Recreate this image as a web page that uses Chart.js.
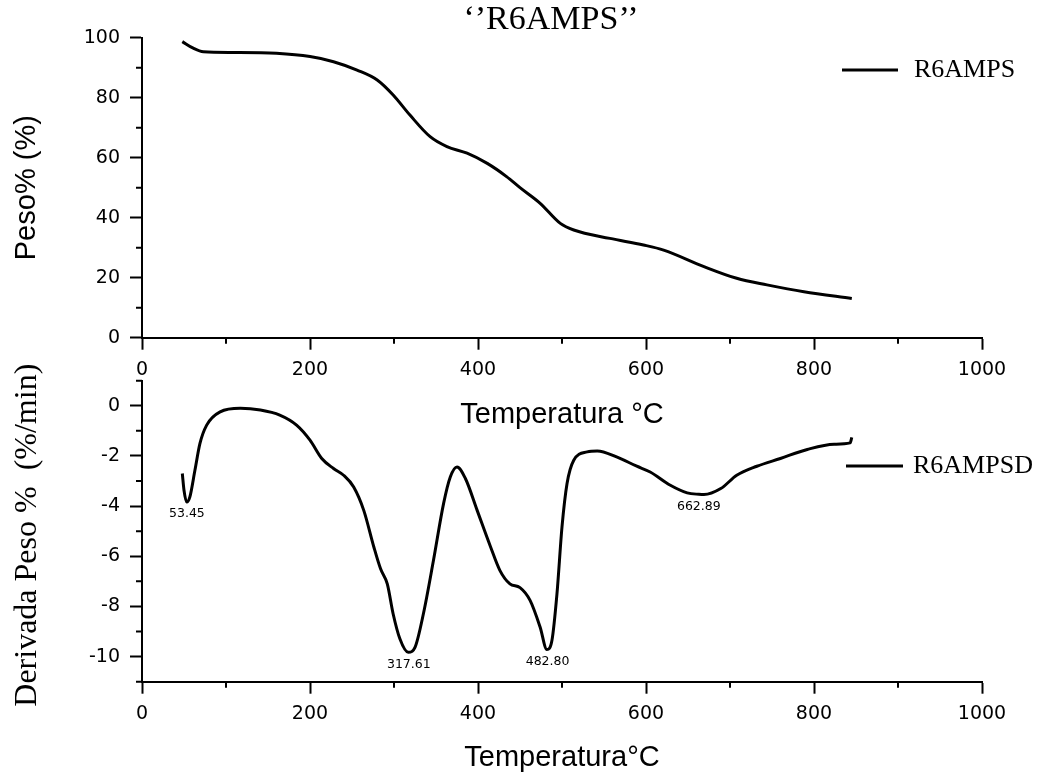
<!DOCTYPE html>
<html>
<head>
<meta charset="utf-8">
<script src="https://cdn.jsdelivr.net/npm/chart.js@4"></script>
<style>
  html, body { margin: 0; padding: 0; background: #fff; }
  #wrap { position: relative; width: 1039px; height: 775px; overflow: hidden; }
  canvas { position: absolute; left: 0; }
  #tgChart { top: 0; }
  #dtgChart { top: 340px; }
</style>
</head>
<body>
<div id="wrap">
  <canvas id="tgChart" width="1039" height="440"></canvas>
  <canvas id="dtgChart" width="1039" height="435"></canvas>
</div>
<script>
// TG curve (weight %)
const tgTemp = [48, 61, 73, 109, 160, 200, 228, 256, 280, 299, 319, 343, 363, 387, 411, 434, 450, 474, 498, 514, 557, 597, 621, 669, 708, 744, 788, 845];
const tgWeight = [98.7, 96.5, 95.3, 95.1, 94.8, 93.7, 92.0, 89.2, 85.9, 80.9, 74.2, 67.0, 63.7, 61.5, 58.1, 53.7, 50.0, 44.8, 38.1, 35.9, 33.1, 30.9, 29.2, 23.7, 19.8, 17.6, 15.3, 13.1];

// DTG curve (derivative, %/min)
const dtgTemp = [48, 50, 53.2, 57, 63, 69, 77, 93, 117, 141, 164, 184, 200, 214, 228, 240, 252, 264, 276, 284, 292, 299, 307, 317, 325, 335, 347, 359, 367, 375, 385, 399, 415, 426, 438, 450, 462, 474, 482, 488, 494, 500, 506, 514, 530, 542, 565, 589, 605, 629, 649, 663, 669, 689, 708, 732, 760, 792, 824, 843, 845];
const dtgValue = [-2.70, -3.37, -3.84, -3.63, -2.57, -1.50, -0.77, -0.24, -0.10, -0.17, -0.37, -0.77, -1.37, -2.10, -2.50, -2.77, -3.24, -4.17, -5.63, -6.50, -7.10, -8.30, -9.29, -9.83, -9.63, -8.29, -6.16, -3.90, -2.84, -2.44, -2.90, -4.17, -5.63, -6.56, -7.10, -7.25, -7.76, -8.83, -9.72, -9.36, -7.50, -4.83, -3.10, -2.17, -1.84, -1.80, -2.04, -2.41, -2.64, -3.17, -3.47, -3.53, -3.54, -3.30, -2.77, -2.41, -2.10, -1.74, -1.53, -1.48, -1.26];

// peak annotations
const peakTemp = [53.45, 317.61, 482.80, 662.89];
const peakValue = [-3.84, -9.83, -9.72, -3.53];
const peakLabels = ['53.45', '317.61', '482.80', '662.89'];

// axis ticks
const xTicks = [0, 200, 400, 600, 800, 1000];
const xMinor = [100, 300, 500, 700, 900];
const tgTicks = [0, 20, 40, 60, 80, 100];
const tgMinor = [10, 30, 50, 70, 90];
const dtgTicks = [-10, -8, -6, -4, -2, 0];
const dtgMinor = [-11, -9, -7, -5, -3, -1, 1];

const tickFont = { family: 'DejaVu Sans', size: 19 };
const sansTitle = { family: 'Liberation Sans, Arial', size: 29 };
const serif = 'Liberation Serif, Times New Roman, serif';

// short minor ticks, placed through the scales
const minorTicks = {
    id: 'minorTicks',
    afterDraw(chart, args, opts) {
        const ctx = chart.ctx;
        const xs = chart.scales.x, ys = chart.scales.y;
        ctx.save();
        ctx.strokeStyle = '#000';
        ctx.lineWidth = 2;
        ctx.beginPath();
        opts.x.forEach(v => {
            const px = xs.getPixelForValue(v);
            ctx.moveTo(px, xs.top);
            ctx.lineTo(px, xs.top + opts.len);
        });
        opts.y.forEach(v => {
            const py = ys.getPixelForValue(v);
            ctx.moveTo(ys.right, py);
            ctx.lineTo(ys.right - opts.len, py);
        });
        ctx.stroke();
        ctx.restore();
    }
};

// legend in the Origin style: short line + serif label
const lineLegend = {
    id: 'lineLegend',
    afterDraw(chart, args, opts) {
        const ctx = chart.ctx;
        ctx.save();
        ctx.strokeStyle = '#000';
        ctx.lineWidth = 3;
        ctx.beginPath();
        ctx.moveTo(opts.x1, opts.y);
        ctx.lineTo(opts.x2, opts.y);
        ctx.stroke();
        ctx.fillStyle = '#000';
        ctx.font = '26px ' + serif;
        ctx.textBaseline = 'middle';
        ctx.fillText(chart.data.datasets[0].label, opts.textX, opts.y);
        if (opts.title) {
            ctx.font = '34px ' + serif;
            ctx.textAlign = 'center';
            ctx.fillText(opts.title, opts.titleX, opts.titleY);
        }
        ctx.restore();
    }
};

// peak temperature labels under each minimum
const peakNotes = {
    id: 'peakNotes',
    afterDatasetsDraw(chart) {
        const ctx = chart.ctx;
        const xs = chart.scales.x, ys = chart.scales.y;
        ctx.save();
        ctx.fillStyle = '#000';
        ctx.font = '12.5px DejaVu Sans';
        ctx.textAlign = 'center';
        ctx.textBaseline = 'middle';
        peakTemp.forEach((t, i) => {
            ctx.fillText(peakLabels[i], xs.getPixelForValue(t), ys.getPixelForValue(peakValue[i]) + 12);
        });
        ctx.restore();
    }
};

function axisX(title, height, titlePad) {
    return {
        type: 'linear',
        min: 0,
        max: 1000,
        afterBuildTicks: s => { s.ticks = xTicks.map(v => ({ value: v })); },
        afterFit: s => { s.height = height; },
        border: { display: true, color: '#000', width: 2 },
        grid: { display: true, drawOnChartArea: false, drawTicks: true, tickLength: 12, tickColor: '#000', tickWidth: 2 },
        ticks: { color: '#000', font: tickFont, padding: 9, maxRotation: 0, autoSkip: false, callback: v => String(v) },
        title: { display: true, text: title, color: '#000', font: sansTitle, padding: { top: 0, bottom: titlePad } }
    };
}

function axisY(min, max, ticks, title, titleFont, titlePad) {
    return {
        type: 'linear',
        min: min,
        max: max,
        afterBuildTicks: s => { s.ticks = ticks.map(v => ({ value: v })); },
        afterFit: s => { s.width = 142; },
        border: { display: true, color: '#000', width: 2 },
        grid: { display: true, drawOnChartArea: false, drawTicks: true, tickLength: 12, tickColor: '#000', tickWidth: 2 },
        ticks: { color: '#000', font: tickFont, padding: 10, callback: v => String(v) },
        title: { display: true, text: title, color: '#000', font: titleFont, padding: { top: titlePad, bottom: 0 } }
    };
}

// Top chart: weight loss
new Chart(document.getElementById('tgChart').getContext('2d'), {
    type: 'line',
    data: {
        datasets: [{
            label: 'R6AMPS',
            data: tgTemp.map((t, i) => ({ x: t, y: tgWeight[i] })),
            borderColor: '#000',
            borderWidth: 3,
            pointRadius: 0,
            cubicInterpolationMode: 'monotone',
            fill: false
        }]
    },
    options: {
        responsive: false,
        animation: false,
        layout: { padding: { top: 37.7, left: 0, right: 57, bottom: 0 } },
        scales: {
            x: axisX('Temperatura °C', 102.3, 8),
            y: axisY(0, 100, tgTicks, 'Peso% (%)', sansTitle, 10)
        },
        plugins: {
            legend: { display: false },
            tooltip: { enabled: false },
            minorTicks: { x: xMinor, y: tgMinor, len: 6 },
            lineLegend: { x1: 842, x2: 898, y: 70, textX: 914, title: '\u2018\u2019R6AMPS\u2019\u2019', titleX: 551, titleY: 20 }
        }
    },
    plugins: [minorTicks, lineLegend]
});

// Bottom chart: derivative
new Chart(document.getElementById('dtgChart').getContext('2d'), {
    type: 'line',
    data: {
        datasets: [{
            label: 'R6AMPSD',
            data: dtgTemp.map((t, i) => ({ x: t, y: dtgValue[i] })),
            borderColor: '#000',
            borderWidth: 3,
            pointRadius: 0,
            cubicInterpolationMode: 'monotone',
            fill: false
        }]
    },
    options: {
        responsive: false,
        animation: false,
        layout: { padding: { top: 40.7, left: 0, right: 57, bottom: 0 } },
        scales: {
            x: axisX('Temperatura°C', 93.3, 0),
            y: axisY(-11, 1, dtgTicks, 'Derivada Peso %  (%/min) ', { family: serif, size: 32 }, 8)
        },
        plugins: {
            legend: { display: false },
            tooltip: { enabled: false },
            minorTicks: { x: xMinor, y: dtgMinor, len: 6 },
            lineLegend: { x1: 846, x2: 903, y: 126, textX: 913 }
        }
    },
    plugins: [minorTicks, lineLegend, peakNotes]
});
</script>
</body>
</html>
